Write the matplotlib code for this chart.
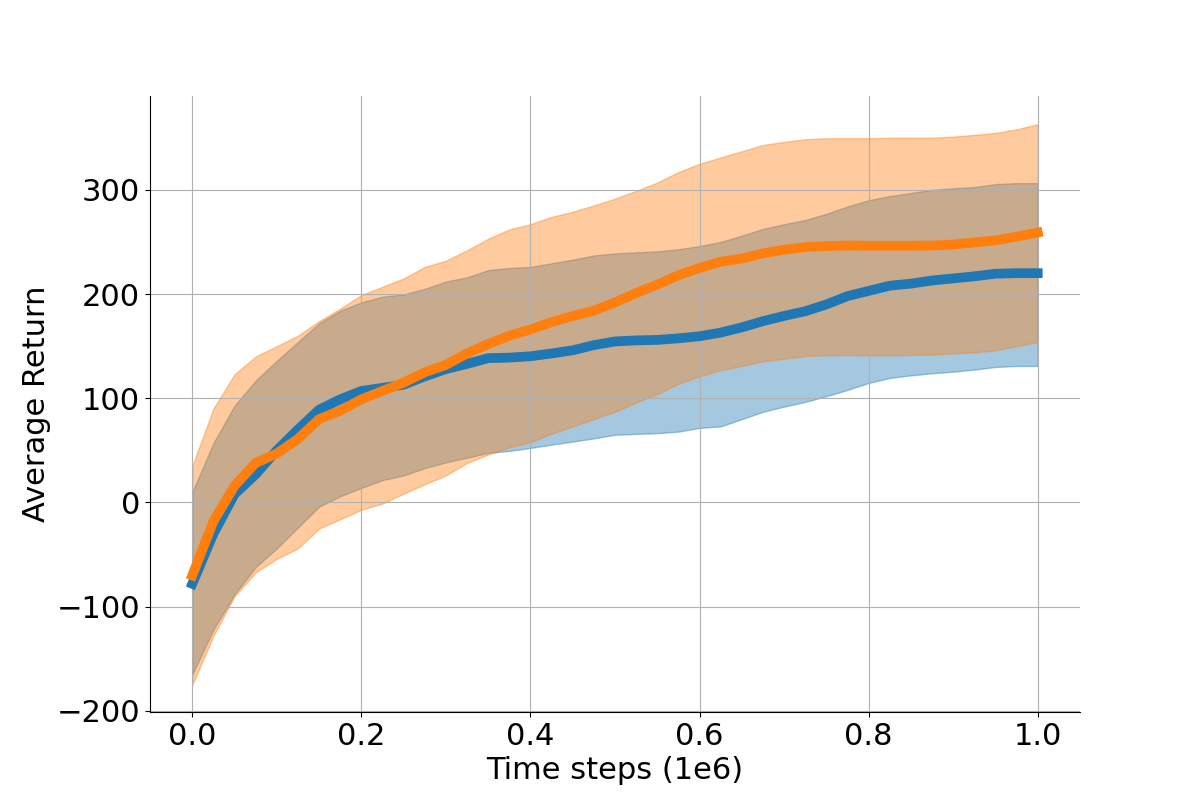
import numpy as np
import matplotlib
matplotlib.use("Agg")
import matplotlib.pyplot as plt

# time steps in units of 1e6
steps = [0.0, 0.025, 0.05, 0.075, 0.1, 0.125, 0.15, 0.175, 0.2, 0.225,
         0.25, 0.275, 0.3, 0.325, 0.35, 0.375, 0.4, 0.425, 0.45, 0.475,
         0.5, 0.525, 0.55, 0.575, 0.6, 0.625, 0.65, 0.675, 0.7, 0.725,
         0.75, 0.775, 0.8, 0.825, 0.85, 0.875, 0.9, 0.925, 0.95, 0.975, 1.0]

# blue run: mean and band
blue_mean = [-78, -30, 8, 27, 50, 70, 89, 99, 107, 110,
             113, 121, 128, 133, 138.5, 139, 140.3, 143, 146, 151,
             154.5, 155.5, 156, 157.5, 159.5, 163, 168, 174, 179, 183.5,
             190, 198, 203, 208, 210, 213, 215, 217, 219.5, 220, 220]
blue_upper = [10, 57, 93, 117, 136, 154, 172, 184, 192, 197.5,
              199.6, 205, 212, 216, 223, 225, 226, 229.5, 233, 237,
              239, 240, 241, 243, 246, 250, 256, 262.5, 267, 271,
              277, 284, 290, 294, 297, 300, 301.5, 302.6, 305.5, 306.4, 306.4]
blue_lower = [-165, -122, -88, -62, -44, -24, -4, 6, 14, 21.5,
              26, 33, 38.5, 43, 47.6, 49.5, 52.4, 55.5, 58.5, 61.5,
              65, 65.8, 66.5, 68, 71.6, 73, 80, 87, 92, 96.5,
              102, 108, 114.7, 119.5, 122, 124, 125.5, 127.5, 130, 131, 131]

# orange run: mean and band
orange_mean = [-70, -18, 16, 38, 47, 61, 80, 88, 99, 107,
               115, 125, 132, 143, 152, 160, 166, 173, 179, 184,
               192, 201, 209, 218, 225, 231, 234, 239, 242.5, 245,
               246, 246.5, 246.3, 246.3, 246.3, 246.5, 247.5, 249.5, 251.5, 255, 259]
orange_upper = [35, 90, 123, 140, 150, 160, 174, 186, 199, 207,
                215, 226, 232, 242, 253, 262, 267, 274, 279, 285,
                291.5, 299, 307, 317, 325, 331, 337, 343, 346, 348.5,
                349.5, 349.5, 349.5, 350, 350, 350, 351, 352.7, 354.5, 358, 363]
orange_lower = [-175, -128, -90, -67, -54, -44, -25, -16, -7, -1,
                8.5, 17.5, 26, 38, 46, 53, 57.8, 66, 73, 80,
                87, 96, 104, 114, 121, 127, 131, 135.5, 138, 140.5,
                141.3, 141.5, 141.2, 141.2, 141.5, 142, 143, 144, 146, 150, 154]

plt.rcParams["font.size"] = 22

fig, ax = plt.subplots(figsize=(12, 8), dpi=100)

for mean, lo, hi, col in [(blue_mean, blue_lower, blue_upper, "C0"),
                          (orange_mean, orange_lower, orange_upper, "C1")]:
    ax.plot(steps, mean, color=col, linewidth=7)
    ax.fill_between(steps, lo, hi, color=col, alpha=0.4)

ax.set_xlabel("Time steps (1e6)")
ax.set_ylabel("Average Return")
ax.set_ylim(-201, 390)
ax.set_yticks([-200, -100, 0, 100, 200, 300])
ax.grid(True)
ax.spines["top"].set_visible(False)
ax.spines["right"].set_visible(False)

plt.savefig("out.png", dpi=100)
